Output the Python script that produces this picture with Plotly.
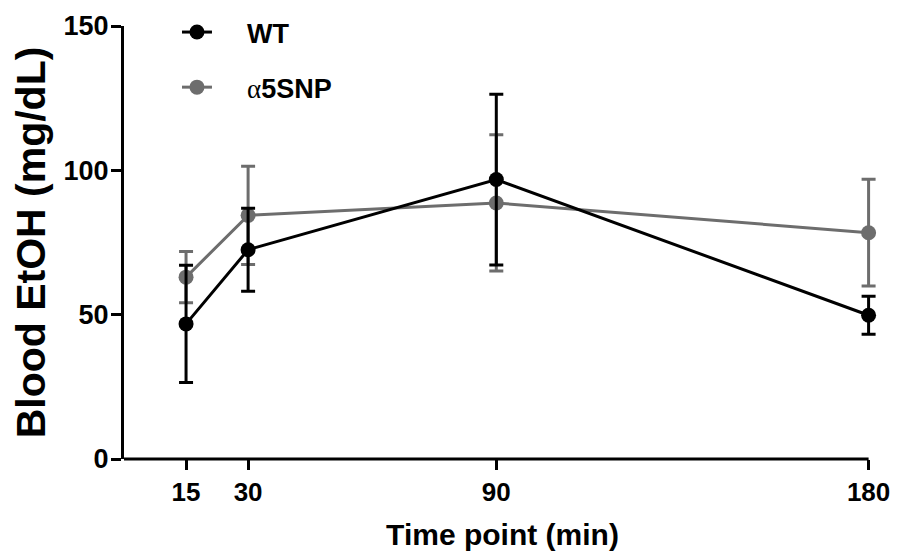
import plotly.graph_objects as go

time_points = [15, 30, 90, 180]
wt_mean = [46.8, 72.5, 96.8, 49.8]
wt_sem = [20.3, 14.4, 29.6, 6.6]
snp_mean = [63.0, 84.4, 88.7, 78.4]
snp_sem = [8.9, 17.0, 23.6, 18.5]
x_ticks = [15, 30, 90, 180]
y_ticks = [0, 50, 100, 150]

BLACK = "#000000"
GRAY = "#6d6d6d"
FONT = "Arial, 'Liberation Sans', sans-serif"

fig = go.Figure()
fig.add_trace(go.Scatter(
    x=time_points, y=snp_mean, mode="lines+markers",
    name='&nbsp;&nbsp;&nbsp;&nbsp;<span style="font-family:\'Liberation Serif\';font-weight:normal">α</span><b>5SNP</b>',
    legendgroup="b", legendrank=2,
    line=dict(color=GRAY, width=3),
    marker=dict(color=GRAY, size=15),
    error_y=dict(type="data", array=snp_sem, color=GRAY, thickness=3, width=7),
))
fig.add_trace(go.Scatter(
    x=time_points, y=wt_mean, mode="lines+markers", name="&nbsp;&nbsp;&nbsp;&nbsp;<b>WT</b>",
    legendgroup="a", legendrank=1,
    line=dict(color=BLACK, width=3),
    marker=dict(color=BLACK, size=15),
    error_y=dict(type="data", array=wt_sem, color=BLACK, thickness=3, width=7),
))

# page body has an 8px offset on each side
OFF = 8
X_MIN, X_AX_END, X_MAX = 0, 180, 183
x0_px, x180_px = 124, 869
px_per_min = (x180_px - x0_px) / (X_AX_END - X_MIN)
W, H = 899 - OFF, 560 - 2 * OFF
plot_left = x0_px - OFF
plot_right = x180_px + (X_MAX - X_AX_END) * px_per_min - OFF
plot_top, plot_bottom = 26 - OFF, 459 - OFF
dom_top = (plot_bottom - plot_top) / plot_bottom

fig.add_shape(type="line", xref="x", yref="paper", x0=X_MIN, x1=X_AX_END, y0=0, y1=0,
              line=dict(color="black", width=3), layer="above")

fig.update_layout(
    width=W, height=H,
    margin=dict(l=plot_left, r=W - plot_right, t=0, b=H - plot_bottom),
    paper_bgcolor="white", plot_bgcolor="white",
    font=dict(family=FONT, color="black", size=26),
    legend=dict(x=53 / (plot_right - plot_left), y=1.0,
                xanchor="left", yanchor="top",
                font=dict(size=27, family=FONT), tracegroupgap=17,
                bgcolor="rgba(0,0,0,0)"),
    xaxis=dict(range=[X_MIN, X_MAX], tickvals=x_ticks, ticks="outside", ticklen=10,
               tickwidth=3, tickcolor="black", showline=False,
               showgrid=False, zeroline=False, automargin=False,
               tickfont=dict(size=26, family=FONT, weight="bold"),
               title=dict(text="<b>Time point (min)</b>", font=dict(size=30), standoff=17)),
    yaxis=dict(range=[0, 150], tickvals=y_ticks, ticks="outside", ticklen=10,
               domain=[0, dom_top], ticklabelstandoff=-3,
               tickwidth=3, tickcolor="black", showline=True, linewidth=3,
               linecolor="black", showgrid=False, zeroline=False, automargin=False,
               tickfont=dict(size=27, family=FONT, weight="bold"),
               title=dict(text="<b>Blood EtOH (mg/dL)</b>", font=dict(size=41), standoff=19)),
)
for tr in fig.data:
    tr.cliponaxis = False

fig.write_html("out.html")
